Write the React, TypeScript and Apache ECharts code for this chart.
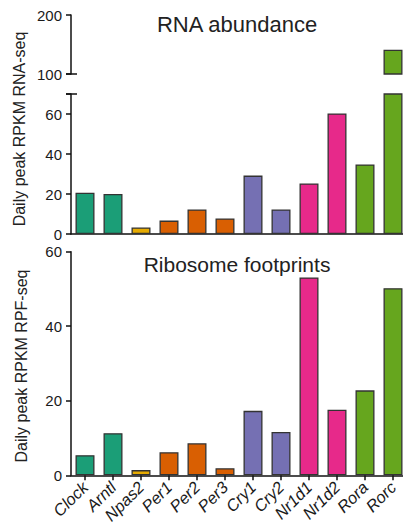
import React, { useEffect, useRef } from "react";
import * as echarts from "echarts";

const categories = ["Clock", "Arntl", "Npas2", "Per1", "Per2", "Per3", "Cry1", "Cry2", "Nr1d1", "Nr1d2", "Rora", "Rorc"];
const barColors = ["#1b9e77", "#1b9e77", "#e6ab02", "#d95f02", "#d95f02", "#d95f02", "#7570b3", "#7570b3", "#e7298a", "#e7298a", "#66a61e", "#66a61e"];
const rnaValues = [20.6, 20, 3.3, 6.7, 12.3, 7.8, 29.2, 12.3, 25.3, 60.3, 34.8, 141];
const rpfValues = [5.4, 11.3, 1.4, 6.2, 8.6, 1.9, 17.3, 11.6, 53.1, 17.6, 22.8, 50.2];
const breakLow = 70;
const breakHigh = 100;

const FONT = "'Liberation Sans', Arial, sans-serif";
const INK = "#1a1a1a";

export default function App() {
  const ref = useRef<HTMLDivElement>(null);
  useEffect(() => {
    if (!ref.current) return;
    const chart = echarts.init(ref.current, null, { renderer: "svg" });
    const mk = (vals: (number | string)[]) =>
      vals.map((v, i) => ({ value: v, itemStyle: { color: barColors[i] } }));
    const left = 71;
    const width = 336;
    const axisLine = { show: true, lineStyle: { color: "#111", width: 1.5 } };
    const yLabel = { color: INK, fontSize: 15, fontFamily: FONT, margin: 9 };
    const yTick = { show: true, length: 5, lineStyle: { color: "#111", width: 1.5 } };
    const barStyle = { borderColor: "#333", borderWidth: 1.3 };
    const g = { left, width, containLabel: false, outerBoundsMode: "none" };
    chart.setOption({
      animation: false,
      grid: [
        { ...g, top: 15, height: 59 },
        { ...g, top: 94, height: 140 },
        { ...g, top: 251.7, height: 223.6 },
      ],
      xAxis: [
        { type: "category", gridIndex: 0, data: categories, show: false },
        {
          type: "category", gridIndex: 1, data: categories,
          axisLine, axisTick: { show: false }, axisLabel: { show: false },
        },
        {
          type: "category", gridIndex: 2, data: categories,
          axisLine,
          axisTick: { show: true, alignWithLabel: true, length: 5, lineStyle: { color: "#111", width: 1.5 } },
          axisLabel: { rotate: 45, color: INK, fontSize: 16.5, fontStyle: "italic", fontFamily: FONT, margin: 9, interval: 0 },
        },
      ],
      yAxis: [
        {
          type: "value", gridIndex: 0, min: breakHigh, max: 200, interval: 100,
          axisLine, axisTick: yTick, axisLabel: yLabel, splitLine: { show: false },
        },
        {
          type: "value", gridIndex: 1, min: 0, max: breakLow, interval: 20,
          axisLine, axisTick: yTick,
          axisLabel: { ...yLabel, formatter: (v: number) => (v === breakLow ? "" : String(v)) },
          splitLine: { show: false },
        },
        {
          type: "value", gridIndex: 2, min: 0, max: 60, interval: 20,
          axisLine, axisTick: yTick, axisLabel: yLabel, splitLine: { show: false },
        },
      ],
      series: [
        {
          type: "bar", xAxisIndex: 0, yAxisIndex: 0, barWidth: 19,
          data: mk(rnaValues.map((v) => (v > breakHigh ? v : "-"))), itemStyle: barStyle,
        },
        {
          type: "bar", xAxisIndex: 1, yAxisIndex: 1, barWidth: 19,
          data: mk(rnaValues), itemStyle: barStyle,
        },
        {
          type: "bar", xAxisIndex: 2, yAxisIndex: 2, barWidth: 19,
          data: mk(rpfValues), itemStyle: barStyle,
        },
      ],
      graphic: [
        { type: "line", shape: { x1: 66, y1: 74, x2: 77, y2: 74 }, style: { stroke: "#111", lineWidth: 1.5 } },
        { type: "line", shape: { x1: 66, y1: 94, x2: 77, y2: 94 }, style: { stroke: "#111", lineWidth: 1.5 } },
        {
          type: "text", x: 237, y: 24,
          style: { text: "RNA abundance", fontSize: 22, fontFamily: FONT, fill: "#222", align: "center", verticalAlign: "middle" },
        },
        {
          type: "text", x: 237, y: 264,
          style: { text: "Ribosome footprints", fontSize: 21, fontFamily: FONT, fill: "#222", align: "center", verticalAlign: "middle" },
        },
        {
          type: "text", x: 19, y: 129, rotation: Math.PI / 2,
          style: { text: "Daily peak RPKM RNA-seq", fontSize: 16, fontFamily: FONT, fill: "#222", align: "center", verticalAlign: "middle" },
        },
        {
          type: "text", x: 21, y: 366, rotation: Math.PI / 2,
          style: { text: "Daily peak RPKM RPF-seq", fontSize: 16, fontFamily: FONT, fill: "#222", align: "center", verticalAlign: "middle" },
        },
      ],
    });
    return () => chart.dispose();
  }, []);
  return (
    <div style={{ position: "fixed", left: 0, top: 0, width: 403, height: 524, overflow: "hidden", background: "#fff" }}>
      <div ref={ref} style={{ width: 412, height: 524 }} />
    </div>
  );
}
